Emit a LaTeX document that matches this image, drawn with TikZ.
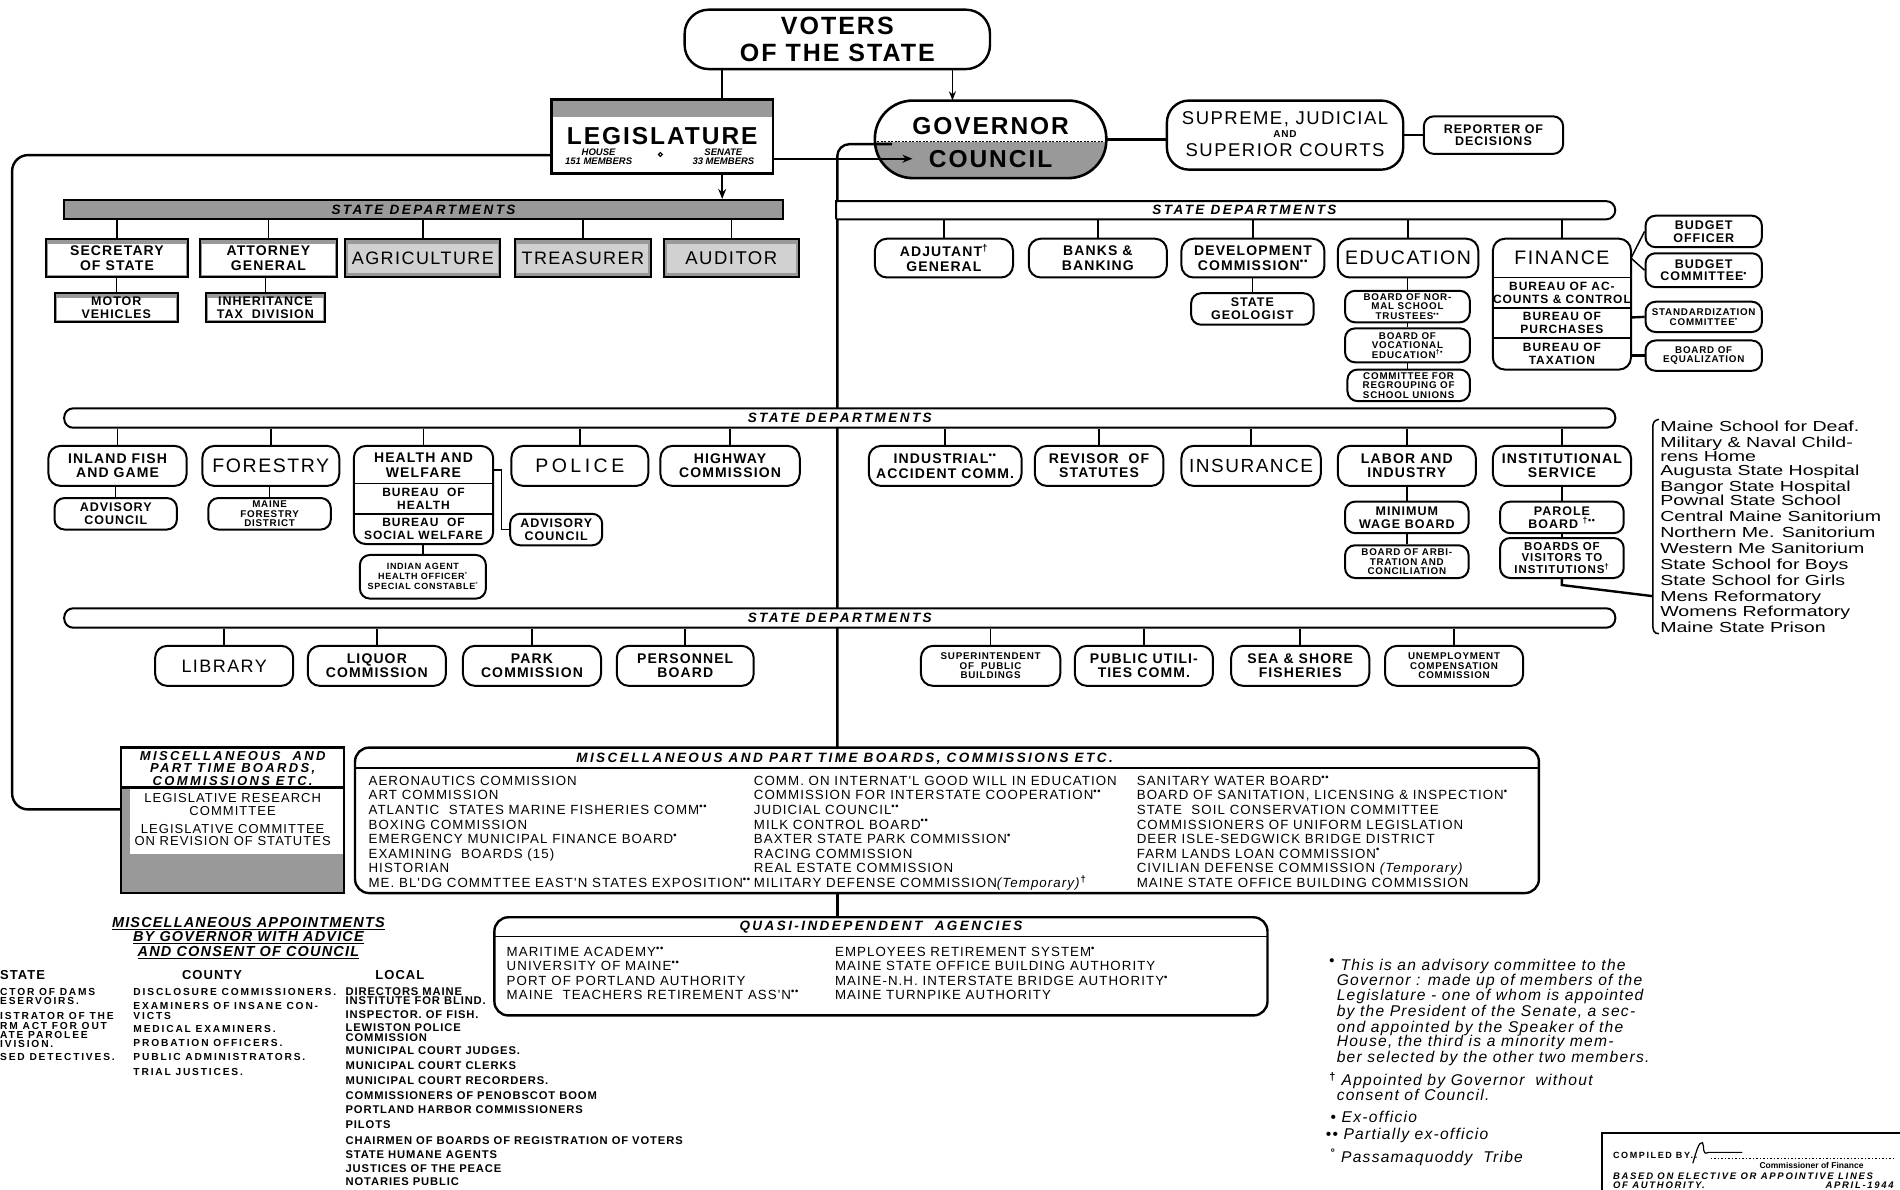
\documentclass[tikz,border=0pt]{standalone}
\usepackage{fontspec}
\setmainfont{Liberation Sans}
\newfontfamily\spc{Liberation Sans}[LetterSpace=8]
\newfontfamily\spw{Liberation Sans}[LetterSpace=18]
\newfontfamily\wid{Liberation Sans}[FakeStretch=1.35]
\usetikzlibrary{fit,arrows.meta}
\definecolor{shd}{gray}{0.6}
\definecolor{shl}{gray}{0.82}
\newcommand\fz[2]{\fontsize{#1}{#2}\selectfont}
\newcommand\fBig{\spc\bfseries\fz{25}{26.5}}
\newcommand\fLab{\spc\bfseries\fz{14}{14.5}}
\newcommand\fWord{\spc\fz{19.5}{20}}
\newcommand\fSm{\spc\bfseries\fz{12.5}{12.7}}
\newcommand\fTiny{\spc\bfseries\fz{9.8}{9.7}}
\newcommand\fBar{\spw\bfseries\itshape\fz{13.5}{14}}
\newcommand\fList{\spc\fz{13.3}{14}}
\newcommand\fNote{\spc\itshape\fz{15.6}{15.4}}
\newcommand\fInst{\wid\fz{14.5}{15.7}}
\newcommand\sups[1]{\textsuperscript{\bfseries\upshape #1}}
\newcommand\mybox[8]{%
  \path (#2,#3) coordinate (#1-nw) (#4,#5) coordinate (#1-se);
  \node[fit=(#1-nw)(#1-se), inner sep=0pt, #6] (#1) {};
  \node[lbl, font={#7}] (#1-t) at (#1.center) {#8};}
\tikzset{
 bxs/.style={draw, line width=2pt},
 rbx/.style={bxs, rounded corners=12pt, fill=white},
 rbs/.style={bxs, rounded corners=10pt, fill=white},
 sqb/.style={bxs, fill=white},
 frm/.style={bxs, fill=shd, path picture={\fill[white] ([shift={(2.2pt,-5pt)}]path picture bounding box.north west) rectangle ([shift={(-2.2pt,2.5pt)}]path picture bounding box.south east);}},
 frl/.style={bxs, fill=shd, path picture={\fill[shl] ([shift={(2.5pt,-5pt)}]path picture bounding box.north west) rectangle ([shift={(-2.5pt,4pt)}]path picture bounding box.south east);}},
 lbl/.style={align=center, inner sep=0pt},
 con/.style={line width=1.5pt},
 thk/.style={line width=2.4pt},
 bar/.style={bxs, rounded corners=9pt, fill=white},
 lst/.style={anchor=base west, inner sep=0pt, font=\fList},
 apl/.style={anchor=base west, inner sep=0pt, font=\spc\bfseries\fz{11.2}{11}},
 apc/.style={anchor=base west, inner sep=0pt, font=\spw\bfseries\fz{10.2}{10}},
 nte/.style={anchor=base west, inner sep=0pt, font=\fNote},
 inst/.style={anchor=base west, inner sep=0pt, font=\fInst},
}
\begin{document}
\begin{tikzpicture}[x=1.2117pt,y=-1.2117pt]
\useasboundingbox (0,0) rectangle (1568,982);
\fill[white] (0,0) rectangle (1568,982);

% ---------- top ----------
\mybox{vot}{565}{8}{817}{57}{bxs, rounded corners=24pt, fill=white, line width=2.4pt}{\fBig}{VOTERS\\OF THE STATE}
\mybox{leg}{455}{82}{638}{143}{sqb, line width=2.6pt, path picture={\fill[shd] (path picture bounding box.north west) rectangle ([yshift=-18pt]path picture bounding box.north east);}}{}{}
\node[lbl, font=\spc\bfseries\fz{24.5}{25}] (leg-t) at (546.5,112) {LEGISLATURE};
\node[lbl, font=\bfseries\itshape\fz{9.5}{9.5}] (leg-h) at (494,129.5) {HOUSE\\151 MEMBERS};
\node[lbl, font=\bfseries\itshape\fz{9.5}{9.5}] (leg-s) at (597,129.5) {SENATE\\33 MEMBERS};
\node[circle, draw, line width=1.2pt, inner sep=1.4pt] (leg-d) at (545,127.5) {};

\path (722,83) coordinate (gov-nw) (913,147) coordinate (gov-se);
\node[fit=(gov-nw)(gov-se), inner sep=0pt] (gov) {};
\fill[white, rounded corners=38pt] (gov-nw) rectangle (gov-se);
\begin{scope}
\clip[rounded corners=38pt] (gov-nw) rectangle (gov-se);
\fill[shd] (722,117) rectangle (913,147);
\end{scope}
\draw[line width=1pt, dash pattern=on 2pt off 1.5pt] (724,117) -- (911,117);
\draw[line width=2.6pt, rounded corners=38pt] (gov-nw) rectangle (gov-se);
\node[lbl, font=\spc\bfseries\fz{24.5}{25}] (gov-t) at (817.5,104) {GOVERNOR};
\node[lbl, font=\spc\bfseries\fz{24.5}{25}] (cou-t) at (817.5,131) {COUNCIL};

\mybox{sup}{963}{83}{1158}{140}{bxs, rounded corners=22pt, fill=white, line width=2.4pt}{}{}
\node[lbl, font=\spc\fz{18.5}{19}] (sup-a) at (1060.5,98) {SUPREME, JUDICIAL};
\node[lbl, font=\spc\bfseries\fz{10}{10}] (sup-b) at (1060.5,111) {AND};
\node[lbl, font=\spc\fz{18.5}{19}] (sup-c) at (1060.5,124) {SUPERIOR COURTS};
\mybox{rep}{1175}{96}{1290}{127}{rbs}{\fSm}{REPORTER OF\\DECISIONS}
\draw[thk] (gov.east) -- (gov.east -| sup.west);
\draw[thk] (sup.east) -- (rep.west);

% trunk and long lines
\coordinate (trA) at (736,119);
\coordinate (trB) at (691,617);
\draw[thk, rounded corners=12pt] (trA) -| (trB);
\coordinate (legL) at (455,128);
\coordinate (mlbL) at (100,668);
\draw[thk, rounded corners=16pt] (legL) -- (10,128) -- (10,668) -- (mlbL);
\coordinate (vlA) at (596,57);
\draw[thk] (vlA) -- (vlA |- leg.north);
\coordinate (vgA) at (786,57);
\draw[con, -{Stealth[length=9pt,width=7pt]}] (vgA) -- (vgA |- gov.north);
\coordinate (govin) at (753,131);
\draw[thk, -{Stealth[length=10pt,width=8pt]}] (leg.east |- govin) -- (govin);

% ---------- bars ----------
\mybox{b1l}{53}{165}{646}{181}{bxs, fill=shd}{\fBar}{STATE DEPARTMENTS}
\path (690,166) coordinate (b1r-nw) (1333,181) coordinate (b1r-se);
\node[fit=(b1r-nw)(b1r-se), inner sep=0pt] (b1r) {};
\draw[bxs, fill=white] (690,181) -- (690,166) [rounded corners=9pt] -- (1333,166) -- (1333,181) [sharp corners] -- (690,181);
\node[lbl, font=\fBar] (b1r-t) at (1027,173.5) {STATE DEPARTMENTS};
\mybox{b2}{53}{337}{1333}{353}{bar}{\fBar}{STATE DEPARTMENTS}
\mybox{b3}{53}{502}{1333}{518}{bar}{\fBar}{STATE DEPARTMENTS}
\draw[thk, -{Stealth[length=10pt,width=8pt]}] (vlA |- leg.south) -- (vlA |- b1l.north);

% ---------- row 1 left ----------
\mybox{sec}{38}{197}{155}{229}{frm}{\fLab}{SECRETARY\\OF STATE}
\mybox{att}{165}{197}{278}{229}{frm}{\fLab}{ATTORNEY\\GENERAL}
\mybox{agr}{285}{197}{413}{229}{frl}{\spc\fz{18}{18}}{AGRICULTURE}
\mybox{tre}{425}{197}{537}{229}{frl}{\spc\fz{18}{18}}{TREASURER}
\mybox{aud}{548}{197}{659}{229}{frl}{\spc\fz{18.5}{18}}{AUDITOR}
\mybox{mot}{45}{242}{147}{266}{frm}{\fSm}{MOTOR\\VEHICLES}
\mybox{inh}{170}{242}{268}{266}{frm}{\fSm}{INHERITANCE\\TAX\ \ DIVISION}
\foreach \n in {sec,att,agr,tre,aud} \draw[con] (\n.north) -- (\n.north |- b1l.south);
\draw[con] (mot.north |- sec.south) -- (mot.north);
\draw[con] (inh.north |- att.south) -- (inh.north);

% ---------- row 1 right ----------
\mybox{adj}{722}{197}{836}{229}{rbx}{\fLab}{ADJUTANT\sups{†}\\GENERAL}
\mybox{bnk}{849}{197}{963}{229}{rbx}{\fLab}{BANKS \&\\BANKING}
\mybox{dev}{975}{197}{1093}{229}{rbx}{\fLab}{DEVELOPMENT\\COMMISSION\sups{••}}
\mybox{edu}{1104}{197}{1220}{229}{rbx}{\fWord}{EDUCATION}
\mybox{fin}{1232}{197}{1346}{305}{rbx}{}{}
\draw[con] (1232,229) -- (1346,229);
\draw[con] (1232,254) -- (1346,254);
\draw[con] (1232,279) -- (1346,279);
\node[lbl, font=\fWord] (fin-a) at (1289,213) {FINANCE};
\node[lbl, font=\spc\bfseries\fz{12}{12.5}] (fin-b) at (1289,241.5) {BUREAU OF AC-\\COUNTS \& CONTROL};
\node[lbl, font=\spc\bfseries\fz{12}{12.5}] (fin-c) at (1289,266.5) {BUREAU OF\\PURCHASES};
\node[lbl, font=\spc\bfseries\fz{12}{12.5}] (fin-d) at (1289,292) {BUREAU OF\\TAXATION};
\mybox{geo}{983}{242}{1084}{268}{rbs}{\fSm}{STATE\\GEOLOGIST}
\mybox{nor}{1110}{240}{1213}{266}{rbs}{\fTiny}{BOARD OF NOR-\\MAL SCHOOL\\TRUSTEES\sups{••}}
\mybox{voc}{1110}{271}{1213}{299}{rbs}{\fTiny}{BOARD OF\\VOCATIONAL\\EDUCATION\sups{†•}}
\mybox{reg}{1112}{305}{1213}{331}{rbs}{\fTiny}{COMMITTEE FOR\\REGROUPING OF\\SCHOOL UNIONS}
\mybox{bof}{1358}{178}{1454}{204}{rbs}{\fSm}{BUDGET\\OFFICER}
\mybox{bcm}{1358}{209}{1454}{237}{rbs}{\fSm}{BUDGET\\COMMITTEE\sups{•}}
\mybox{std}{1358}{249}{1454}{274}{rbs}{\fTiny}{STANDARDIZATION\\COMMITTEE\sups{•}}
\mybox{equ}{1358}{281}{1454}{306}{rbs}{\fTiny}{BOARD OF\\EQUALIZATION}
\foreach \n in {adj,bnk,dev,edu,fin} \draw[con] (\n.north) -- (\n.north |- b1r.south);
\draw[con] (geo.north |- dev.south) -- (geo.north);
\draw[con] (nor.north |- edu.south) -- (nor.north);
\draw[con] (nor.south) -- (nor.south |- voc.north);
\draw[con] (voc.south) -- (voc.south |- reg.north);
\coordinate (finR) at (1346,213);
\draw[con] (finR) -- (bof.west);
\draw[con] (finR) -- (bcm.west);
\coordinate (finP) at (1346,262);
\draw[thk] (finP) -- (std.west);
\coordinate (finT) at (1346,293.5);
\draw[thk] (finT) -- (equ.west);

% ---------- row 2 ----------
\mybox{inl}{40}{368}{154}{401}{rbx}{\fLab}{INLAND FISH\\AND GAME}
\mybox{fst}{167}{368}{280}{401}{rbx}{\fWord}{FORESTRY}
\mybox{hw}{292}{368}{407}{449}{rbx}{}{}
\draw[con] (292,399) -- (407,399);
\draw[con] (292,424) -- (407,424);
\node[lbl, font=\fLab] (hw-a) at (349.5,384) {HEALTH AND\\WELFARE};
\node[lbl, font=\spc\bfseries\fz{12}{12.5}] (hw-b) at (349.5,411.5) {BUREAU\ \ OF\\HEALTH};
\node[lbl, font=\spc\bfseries\fz{12}{12.5}] (hw-c) at (349.5,436.5) {BUREAU\ \ OF\\SOCIAL WELFARE};
\mybox{pol}{422}{368}{535}{401}{rbx}{\spw\fz{19.5}{20}}{POLICE}
\mybox{hwy}{545}{368}{660}{401}{rbx}{\fLab}{HIGHWAY\\COMMISSION}
\mybox{adv1}{45}{411}{146}{437}{rbs}{\fSm}{ADVISORY\\COUNCIL}
\mybox{mfd}{172}{411}{273}{437}{rbs}{\fTiny}{MAINE\\FORESTRY\\DISTRICT}
\mybox{adv2}{421}{424}{497}{450}{rbs}{\fSm}{ADVISORY\\COUNCIL}
\mybox{ind}{297}{458}{401}{494}{rbs}{\spc\bfseries\fz{9}{10}}{INDIAN AGENT\\HEALTH OFFICER\sups{°}\\SPECIAL CONSTABLE\sups{°}}
\mybox{iac}{717}{368}{843}{401}{rbx}{\fLab}{INDUSTRIAL\sups{••}\\ACCIDENT COMM.}
\mybox{rev}{854}{368}{960}{401}{rbx}{\fLab}{REVISOR\ \ OF\\STATUTES}
\mybox{ins}{975}{368}{1090}{401}{rbx}{\spc\fz{19}{20}}{INSURANCE}
\mybox{lab}{1104}{368}{1218}{401}{rbx}{\fLab}{LABOR AND\\INDUSTRY}
\mybox{ist}{1232}{368}{1346}{401}{rbx}{\fLab}{INSTITUTIONAL\\SERVICE}
\mybox{mwb}{1110}{414}{1212}{440}{rbs}{\fSm}{MINIMUM\\WAGE BOARD}
\mybox{arb}{1110}{450}{1212}{477}{rbs}{\fTiny}{BOARD OF ARBI-\\TRATION AND\\CONCILIATION}
\mybox{par}{1238}{414}{1340}{440}{rbs}{\fSm}{PAROLE\\BOARD \sups{†••}}
\mybox{bov}{1238}{444}{1340}{477}{rbs}{\spc\bfseries\fz{11.5}{11.5}}{BOARDS OF\\VISITORS TO\\INSTITUTIONS\sups{†}}
\foreach \n in {inl,fst,hw,pol,hwy,iac,rev,ins,lab,ist} \draw[con] (\n.north) -- (\n.north |- b2.south);
\draw[con] (adv1.north |- inl.south) -- (adv1.north);
\draw[con] (mfd.north |- fst.south) -- (mfd.north);
\draw[con] (ind.north |- hw.south) -- (ind.north);
\coordinate (hwR) at (407,388);
\draw[con] (hwR) -- (414,388) -- (414,437) -- (adv2.west);
\draw[con] (mwb.north |- lab.south) -- (mwb.north);
\draw[con] (mwb.south) -- (mwb.south |- arb.north);
\draw[con] (par.north |- ist.south) -- (par.north);
\draw[con] (par.south) -- (par.south |- bov.north);
\coordinate (brk) at (1364,492);
\draw[thk] (bov.south) -- ++(0,5) -- (brk);
\draw[con] (1369,346) .. controls (1364,347) and (1364,350) .. (1364,354) -- (1364,516) .. controls (1364,520) and (1365,523) .. (1369,523);
\foreach \t/\yy [count=\i] in {Maine School for Deaf./356.5, Military \& Naval Child-/369.5, rens Home/380.5, Augusta State Hospital/392.5, Bangor State Hospital/405.5, Pownal State School/417.5, Central Maine Sanitorium/430.5, Northern Me. Sanitorium/443.5, Western Me Sanitorium/456.5, State School for Boys/470, State School for Girls/483, Mens Reformatory/496, Womens Reformatory/509, Maine State Prison/522}
  \node[inst] (il\i) at (1370,\yy) {\t};

% ---------- row 3 ----------
\mybox{lib}{128}{533}{242}{566}{rbx}{\spc\fz{18}{18}}{LIBRARY}
\mybox{liq}{254}{533}{368}{566}{rbx}{\fLab}{LIQUOR\\COMMISSION}
\mybox{prk}{382}{533}{496}{566}{rbx}{\fLab}{PARK\\COMMISSION}
\mybox{per}{509}{533}{622}{566}{rbx}{\fLab}{PERSONNEL\\BOARD}
\mybox{spb}{760}{533}{875}{566}{rbx}{\fTiny}{SUPERINTENDENT\\OF\ \ PUBLIC\\BUILDINGS}
\mybox{put}{887}{533}{1001}{566}{rbx}{\fLab}{PUBLIC UTILI-\\TIES COMM.}
\mybox{sea}{1016}{533}{1130}{566}{rbx}{\fLab}{SEA \& SHORE\\FISHERIES}
\mybox{une}{1143}{533}{1257}{566}{rbx}{\fTiny}{UNEMPLOYMENT\\COMPENSATION\\COMMISSION}
\foreach \n in {lib,liq,prk,per,spb,put,sea,une} \draw[con] (\n.north) -- (\n.north |- b3.south);

% ---------- misc left box ----------
\mybox{mlb}{100}{617}{284}{737}{sqb, line width=2.4pt}{}{}
\fill[shd] (101,650) rectangle (107,736);
\fill[shd] (101,705) rectangle (283,736);
\draw[line width=2.4pt] (mlb-nw) rectangle (mlb-se);
\draw[thk] (100,650) -- (284,650);
\node[lbl, font=\spw\bfseries\itshape\fz{13}{12.7}] (mlb-h) at (192,634) {MISCELLANEOUS\ \ AND\\PART TIME BOARDS,\\COMMISSIONS ETC.};
\node[lbl, font=\spc\fz{13}{12.5}] (mlb-a) at (192,664) {LEGISLATIVE RESEARCH\\COMMITTEE};
\node[lbl, font=\spc\fz{13}{12.5}] (mlb-b) at (192,689) {LEGISLATIVE COMMITTEE\\ON REVISION OF STATUTES};

% ---------- misc big box ----------
\mybox{mbb}{293}{617}{1270}{737}{bxs, rounded corners=14pt, fill=white, line width=2.4pt}{}{}
\draw[con] (293,634) -- (1270,634);
\node[lbl, font=\fBar] (mbb-h) at (697,626) {MISCELLANEOUS AND PART TIME BOARDS, COMMISSIONS ETC.};
\foreach \t [count=\i] in {AERONAUTICS COMMISSION, ART COMMISSION, ATLANTIC\ \ STATES MARINE FISHERIES COMM\sups{••}, BOXING COMMISSION, EMERGENCY MUNICIPAL FINANCE BOARD\sups{•}, EXAMINING\ \ BOARDS (15), HISTORIAN, ME. BL'DG COMMTTEE EAST'N STATES EXPOSITION\sups{••}}
  \node[lst] (ma\i) at ({304},{648.2+12*(\i-1)}) {\t};
\foreach \t [count=\i] in {COMM. ON INTERNAT'L GOOD WILL IN EDUCATION, COMMISSION FOR INTERSTATE COOPERATION\sups{••}, JUDICIAL COUNCIL\sups{••}, MILK CONTROL BOARD\sups{••}, BAXTER STATE PARK COMMISSION\sups{•}, RACING COMMISSION, REAL ESTATE COMMISSION, MILITARY DEFENSE COMMISSION\textit{(Temporary)}\sups{†}}
  \node[lst] (mb\i) at ({622},{648.2+12*(\i-1)}) {\t};
\foreach \t [count=\i] in {SANITARY WATER BOARD\sups{••}, {BOARD OF SANITATION, LICENSING \& INSPECTION\sups{•}}, STATE\ \ SOIL CONSERVATION COMMITTEE, COMMISSIONERS OF UNIFORM LEGISLATION, DEER ISLE-SEDGWICK BRIDGE DISTRICT, FARM LANDS LOAN COMMISSION\sups{•}, CIVILIAN DEFENSE COMMISSION \textit{(Temporary)}, MAINE STATE OFFICE BUILDING COMMISSION}
  \node[lst] (mc\i) at ({938},{648.2+12*(\i-1)}) {\t};

% ---------- quasi ----------
\mybox{qbx}{408}{757}{1046}{838}{bxs, rounded corners=14pt, fill=white, line width=2.4pt}{}{}
\coordinate (trC) at (691,737);
\draw[thk] (trC) -- (trC |- qbx.north);
\draw[con] (408,773) -- (1046,773);
\node[lbl, font=\fBar] (qbx-h) at (727,765) {QUASI-INDEPENDENT\ \ AGENCIES};
\foreach \t [count=\i] in {MARITIME ACADEMY\sups{••}, UNIVERSITY OF MAINE\sups{••}, PORT OF PORTLAND AUTHORITY, MAINE\ \ TEACHERS RETIREMENT ASS'N\sups{••}}
  \node[lst] (qa\i) at ({418},{789.2+12*(\i-1)}) {\t};
\foreach \t [count=\i] in {EMPLOYEES RETIREMENT SYSTEM\sups{•}, MAINE STATE OFFICE BUILDING AUTHORITY, MAINE-N.H. INTERSTATE BRIDGE AUTHORITY\sups{•}, MAINE TURNPIKE AUTHORITY}
  \node[lst] (qb\i) at ({689},{789.2+12*(\i-1)}) {\t};

% ---------- appointments ----------
\node[lbl, font=\spc\bfseries\itshape\fz{14.5}{14.5}] (apt-h) at (205,774) {\underline{MISCELLANEOUS APPOINTMENTS}\\\underline{BY GOVERNOR WITH ADVICE}\\\underline{AND CONSENT OF COUNCIL}};
\node[anchor=west, inner sep=0pt, font=\spc\bfseries\fz{13}{13}] (st-h) at (0,805) {STATE};
\node[inner sep=0pt, font=\spc\bfseries\fz{13}{13}] (co-h) at (175,805) {COUNTY};
\node[inner sep=0pt, font=\spc\bfseries\fz{13}{13}] (lo-h) at (330,805) {LOCAL};
\foreach \t/\yy [count=\i] in {CTOR OF DAMS/821.3, ESERVOIRS./829.3, ISTRATOR OF THE/841.3, RM ACT FOR OUT/849.3, ATE PAROLEE/857.3, IVISION./864.3, SED DETECTIVES./875.3}
  \node[apc] (as\i) at (0,\yy) {\t};
\foreach \t/\yy [count=\i] in {DISCLOSURE COMMISSIONERS./821.3, EXAMINERS OF INSANE CON-/833.3, VICTS/841.3, MEDICAL EXAMINERS./852.3, PROBATION OFFICERS./863.3, PUBLIC ADMINISTRATORS./875.3, TRIAL JUSTICES./887.3}
  \node[apc] (ac\i) at (110,\yy) {\t};
\foreach \t/\yy [count=\i] in {DIRECTORS MAINE/821.3, INSTITUTE FOR BLIND./829.3, INSPECTOR. OF FISH./840.3, LEWISTON POLICE/851.3, COMMISSION/859.3, MUNICIPAL COURT JUDGES./870.3, MUNICIPAL COURT CLERKS/882.3, MUNICIPAL COURT RECORDERS./895.3, COMMISSIONERS OF PENOBSCOT BOOM/907.3, PORTLAND HARBOR COMMISSIONERS/919.3, PILOTS/931.3, CHAIRMEN OF BOARDS OF REGISTRATION OF VOTERS/944.3, STATE HUMANE AGENTS/956.3, JUSTICES OF THE PEACE/967.3, NOTARIES PUBLIC/978.3}
  \node[apl] (al\i) at (285,\yy) {\t};

% ---------- footnotes ----------
\node[nte] (n1) at (1097,801) {\sups{\Large•} This is an advisory committee to the};
\node[nte] (n2) at (1103,813) {Governor : made up of members of the};
\node[nte] (n3) at (1103,826) {Legislature - one of whom is appointed};
\node[nte] (n4) at (1103,839) {by the President of the Senate, a sec-};
\node[nte] (n5) at (1103,852) {ond appointed by the Speaker of the};
\node[nte] (n6) at (1103,864) {House, the third is a minority mem-};
\node[nte] (n7) at (1103,877) {ber selected by the other two members.};
\node[nte] (n8) at (1097,896) {\sups{†} Appointed by Governor\ \ without};
\node[nte] (n9) at (1103,908) {consent of Council.};
\node[nte] (n10) at (1098,926) {{\upshape•} Ex-officio};
\node[nte] (n11) at (1094,940) {{\upshape••} Partially ex-officio};
\node[nte] (n12) at (1098,959) {\sups{°} Passamaquoddy\ \ Tribe};

% ---------- compiled box ----------
\path (1322,935) coordinate (cmp-nw) (1590,995) coordinate (cmp-se);
\node[fit=(cmp-nw)(cmp-se), inner sep=0pt, draw, line width=1.8pt] (cmp) {};
\node[anchor=base west, inner sep=0pt, font=\spw\bfseries\fz{9}{9}] (cmp-a) at (1331,956) {COMPILED BY..};
\draw[line width=1.2pt] (1397,960) .. controls (1400,950) and (1402,942) .. (1405,943) .. controls (1407,946) and (1404,954) .. (1410,951) -- (1438,951);
\draw[line width=1pt, dash pattern=on 1.5pt off 2pt] (1412,956) -- (1565,956);
\node[anchor=base, inner sep=0pt, font=\bfseries\fz{8.5}{8.5}] (cmp-b) at (1495,964.5) {Commissioner of Finance};
\node[anchor=base west, inner sep=0pt, font=\spw\bfseries\itshape\fz{9.5}{9.5}] (cmp-c) at (1331,973) {BASED ON ELECTIVE OR APPOINTIVE LINES};
\node[anchor=base west, inner sep=0pt, font=\spw\bfseries\itshape\fz{9.5}{9.5}] (cmp-d) at (1331,981) {OF AUTHORITY.};
\node[anchor=base east, inner sep=0pt, font=\spw\bfseries\itshape\fz{9.5}{9.5}] (cmp-e) at (1563,981) {APRIL-1944};
\end{tikzpicture}
\end{document}
